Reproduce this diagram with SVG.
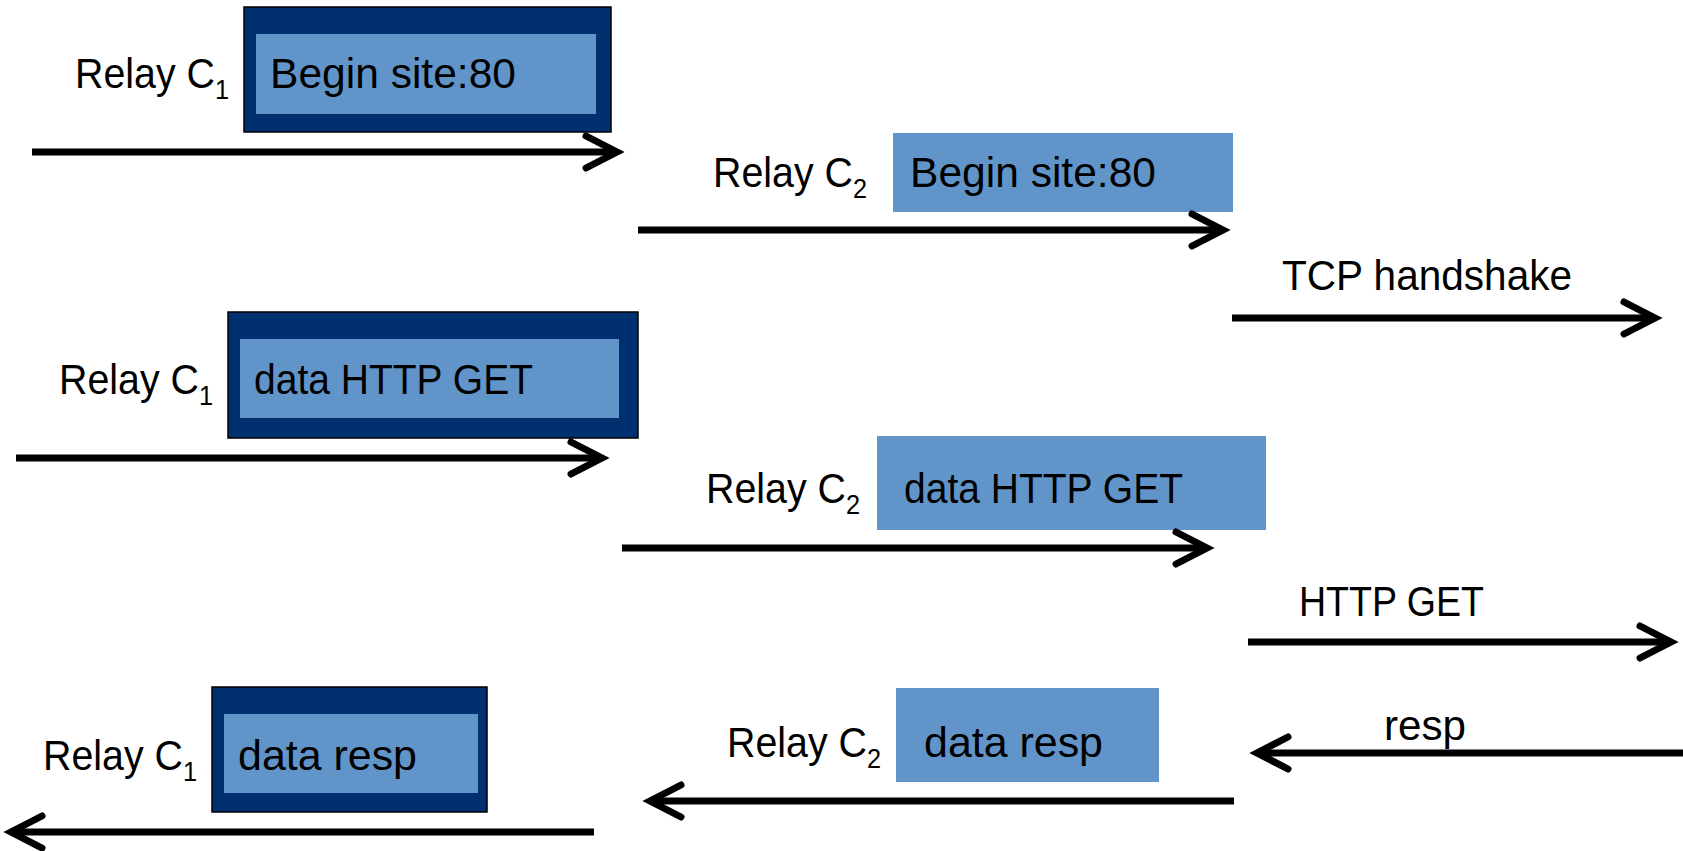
<svg xmlns="http://www.w3.org/2000/svg" width="1683" height="851" viewBox="0 0 1683 851">
  <style>
    text { font-family: "Liberation Sans", Arial, sans-serif; fill: #000; }
    .lbl { font-size: 42px; }
    .sub { font-size: 27px; }
    .cell-outer { fill: #00306F; stroke: #000; stroke-width: 1.5; }
    .cell-inner { fill: #6195C9; }
    .cell { fill: #6195C9; }
    .wire { fill: none; stroke: #000; stroke-width: 7; marker-end: url(#chev); }
  </style>
  <defs>
    <!-- open chevron arrowhead, tip sits ~7.6px past the path end because of the miter -->
    <marker id="chev" markerUnits="userSpaceOnUse" markerWidth="60" markerHeight="60"
            viewBox="-45 -30 60 60" refX="0" refY="0" orient="auto" overflow="visible">
      <path d="M-31,-16 L0,0 L-31,16" fill="none" stroke="#000" stroke-width="7"
            stroke-linecap="round" stroke-linejoin="miter"/>
    </marker>
  </defs>

  <rect width="1683" height="851" fill="#fff"/>

  <!-- relay labels (subscripted circuit ids) -->
  <g id="relay-c1-begin">
    <text class="lbl" x="75" y="88" textLength="154" lengthAdjust="spacingAndGlyphs">Relay C<tspan class="sub" dy="11">1</tspan></text>
  </g>
  <g id="relay-c2-begin">
    <text class="lbl" x="713" y="187" textLength="154" lengthAdjust="spacingAndGlyphs">Relay C<tspan class="sub" dy="11">2</tspan></text>
  </g>
  <g id="relay-c1-get">
    <text class="lbl" x="59" y="394" textLength="154" lengthAdjust="spacingAndGlyphs">Relay C<tspan class="sub" dy="11">1</tspan></text>
  </g>
  <g id="relay-c2-get">
    <text class="lbl" x="706" y="503" textLength="154" lengthAdjust="spacingAndGlyphs">Relay C<tspan class="sub" dy="11">2</tspan></text>
  </g>
  <g id="relay-c1-resp">
    <text class="lbl" x="43" y="770" textLength="154" lengthAdjust="spacingAndGlyphs">Relay C<tspan class="sub" dy="11">1</tspan></text>
  </g>
  <g id="relay-c2-resp">
    <text class="lbl" x="727" y="757" textLength="154" lengthAdjust="spacingAndGlyphs">Relay C<tspan class="sub" dy="11">2</tspan></text>
  </g>

  <!-- cells: layered (onion) cells on the C1 hop, plain cells on the C2 hop -->
  <g id="cell-c1-begin">
    <rect class="cell-outer" x="244" y="7" width="367" height="125"/>
    <rect class="cell-inner" x="256" y="34" width="340" height="80"/>
    <text class="lbl" x="270" y="88" textLength="246" lengthAdjust="spacingAndGlyphs">Begin site:80</text>
  </g>
  <g id="cell-c2-begin">
    <rect class="cell" x="893" y="133" width="340" height="79"/>
    <text class="lbl" x="910" y="187" textLength="246" lengthAdjust="spacingAndGlyphs">Begin site:80</text>
  </g>
  <g id="cell-c1-get">
    <rect class="cell-outer" x="228" y="312" width="410" height="126"/>
    <rect class="cell-inner" x="240" y="339" width="379" height="79"/>
    <text class="lbl" x="254" y="394" textLength="279" lengthAdjust="spacingAndGlyphs">data HTTP GET</text>
  </g>
  <g id="cell-c2-get">
    <rect class="cell" x="877" y="436" width="389" height="94"/>
    <text class="lbl" x="904" y="503" textLength="279" lengthAdjust="spacingAndGlyphs">data HTTP GET</text>
  </g>
  <g id="cell-c1-resp">
    <rect class="cell-outer" x="212" y="687" width="275" height="125"/>
    <rect class="cell-inner" x="224" y="714" width="254" height="79"/>
    <text class="lbl" x="238" y="770" textLength="179" lengthAdjust="spacingAndGlyphs">data resp</text>
  </g>
  <g id="cell-c2-resp">
    <rect class="cell" x="896" y="688" width="263" height="94"/>
    <text class="lbl" x="924" y="757" textLength="179" lengthAdjust="spacingAndGlyphs">data resp</text>
  </g>

  <!-- exit-side labels -->
  <g id="tcp-handshake">
    <text class="lbl" x="1282" y="290" textLength="290" lengthAdjust="spacingAndGlyphs">TCP handshake</text>
  </g>
  <g id="http-get">
    <text class="lbl" x="1299" y="616" textLength="185" lengthAdjust="spacingAndGlyphs">HTTP GET</text>
  </g>
  <g id="resp">
    <text class="lbl" x="1384" y="740" textLength="82" lengthAdjust="spacingAndGlyphs">resp</text>
  </g>

  <!-- connectors -->
  <g id="connectors">
    <path class="wire" d="M32,152 H617"/>
    <path class="wire" d="M638,230 H1223"/>
    <path class="wire" d="M1232,318 H1655"/>
    <path class="wire" d="M16,458 H602"/>
    <path class="wire" d="M622,548 H1207"/>
    <path class="wire" d="M1248,642 H1671"/>
    <path class="wire" d="M1683,753 H1257"/>
    <path class="wire" d="M1234,801 H650"/>
    <path class="wire" d="M594,832 H11"/>
  </g>
</svg>
